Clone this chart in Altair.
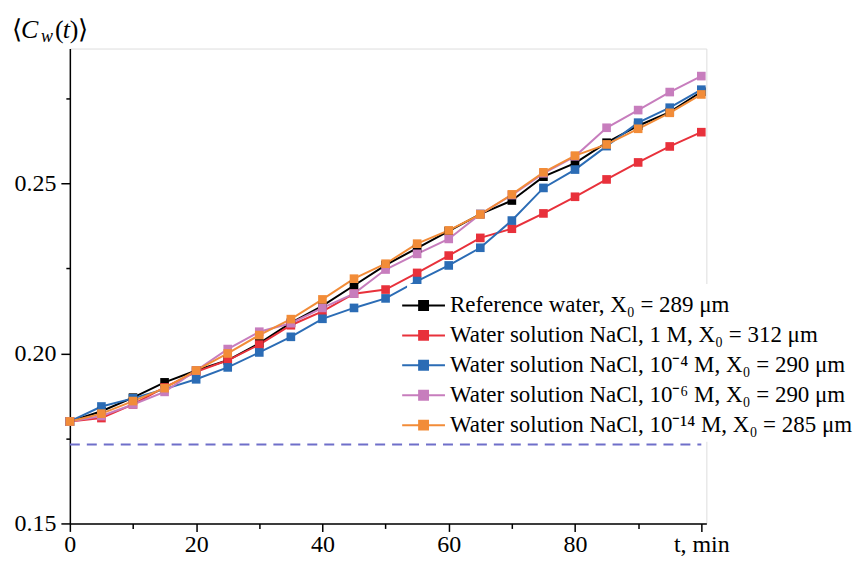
import altair as alt
import pandas as pd

t_min = list(range(0, 101, 5))

series_names = [
    "Reference water, X₀ = 289 μm",
    "Water solution NaCl, 1 M, X₀ = 312 μm",
    "Water solution NaCl, 10⁻⁴ M, X₀ = 290 μm",
    "Water solution NaCl, 10⁻⁶ M, X₀ = 290 μm",
    "Water solution NaCl, 10⁻¹⁴ M, X₀ = 285 μm",
]
colors = ["#000000", "#e8313b", "#2b6cb5", "#c77dbd", "#f28c38"]

reference_water = [0.180, 0.183, 0.187, 0.1915, 0.195, 0.198, 0.203, 0.209, 0.214, 0.220, 0.226,
                   0.231, 0.236, 0.241, 0.245, 0.252, 0.256, 0.262, 0.267, 0.271, 0.277]
nacl_1m = [0.180, 0.181, 0.185, 0.190, 0.1946, 0.198, 0.2026, 0.2083, 0.2124, 0.2176, 0.2188,
           0.2237, 0.2288, 0.234, 0.2367, 0.2412, 0.2461, 0.2512, 0.2562, 0.2609, 0.2651]
nacl_1e4 = [0.180, 0.1844, 0.1868, 0.1895, 0.1924, 0.1959, 0.2003, 0.2049, 0.2102, 0.2134, 0.2162,
            0.2213, 0.2259, 0.2311, 0.2391, 0.2487, 0.2541, 0.261, 0.2679, 0.2723, 0.2776]
nacl_1e6 = [0.180, 0.1816, 0.185, 0.1887, 0.195, 0.2013, 0.2064, 0.2089, 0.2134, 0.2176, 0.2247,
            0.2293, 0.2337, 0.241, 0.2466, 0.253, 0.258, 0.2664, 0.2716, 0.2769, 0.2816]
nacl_1e14 = [0.180, 0.1823, 0.186, 0.1898, 0.195, 0.200, 0.2054, 0.2101, 0.2159, 0.222, 0.2264,
             0.2323, 0.2362, 0.2409, 0.2468, 0.2533, 0.2582, 0.2615, 0.2661, 0.2708, 0.2762]
all_series = [reference_water, nacl_1m, nacl_1e4, nacl_1e6, nacl_1e14]

baseline_value = 0.1732

rows = []
for idx, (name, vals) in enumerate(zip(series_names, all_series)):
    for tt, vv in zip(t_min, vals):
        rows.append({"t": tt, "v": vv, "series": name, "order": idx})
df = pd.DataFrame(rows)

SERIF = "Liberation Serif"

x_axis = alt.Axis(
    values=list(range(0, 101, 10)),
    labelExpr="datum.value == 100 ? 't, min' : (datum.value % 20 == 0 ? datum.label : '')",
    title=None, grid=False,
    domainColor="black", domainWidth=1.5,
    tickColor="black", tickWidth=1.5,
    tickSize={"condition": {"test": "datum.value % 20 == 0 || datum.value == 100", "value": 8}, "value": 5},
    labelFont=SERIF, labelFontSize=24, labelColor="black", labelPadding=1, labelFlush=False,
)
y_axis = alt.Axis(
    values=[0.15, 0.175, 0.2, 0.225, 0.25, 0.275],
    labelExpr="(round(datum.value*1000) % 50 == 0) ? format(datum.value, '.2f') : ''",
    title=None, grid=False,
    domainColor="black", domainWidth=1.5,
    tickColor="black", tickWidth=1.5,
    tickSize={"condition": {"test": "round(datum.value*1000) % 50 == 0", "value": 9}, "value": 4},
    labelFont=SERIF, labelFontSize=24, labelColor="black", labelPadding=5,
)

x_scale = alt.Scale(domain=[0, 100.8], nice=False, zero=False)
y_scale = alt.Scale(domain=[0.15, 0.2897], nice=False, zero=False)
x_enc = alt.X("t:Q", scale=x_scale, axis=x_axis)
y_enc = alt.Y("v:Q", scale=y_scale, axis=y_axis)

legend = alt.Legend(
    orient="none", legendX=338, legendY=236,
    fillColor="white", padding=4,
    labelFont=SERIF, labelFontSize=23, labelColor="black", labelLimit=1000, labelOffset=4,
    symbolType="M-1.6,0H-0.57M-0.03,0H1M-0.57,-0.27H-0.03V0.27H-0.57Z",
    symbolSize=1089, symbolStrokeWidth=2, symbolOpacity=1, rowPadding=0,
)
color_enc = alt.Color("series:N", scale=alt.Scale(domain=series_names, range=colors),
                      title=None, legend=legend)

base = alt.Chart(df)
lines = base.mark_line(strokeWidth=2).encode(
    x=x_enc, y=y_enc, color=color_enc, order="t:Q")
points = base.mark_point(shape="square", filled=True, size=75, opacity=1).encode(
    x=x_enc, y=y_enc, color=color_enc)

rule_df = pd.DataFrame({"t": [0], "t2": [100], "v": [baseline_value]})
dashed = alt.Chart(rule_df).mark_rule(color="#6f6fc9", strokeDash=[10, 7], strokeWidth=2).encode(
    x=alt.X("t:Q", scale=x_scale), x2="t2:Q", y=alt.Y("v:Q", scale=y_scale))

# y-axis title pieces: ⟨ C_w (t) ⟩
title_pieces = [
    ("⟨", "normal", 26, -58, -11),
    ("C", "italic", 26, -49, -11),
    ("w", "italic", 18, -29, -7),
    ("(", "normal", 26, -15, -11),
    ("t", "italic", 26, -7, -11),
    (")⟩", "normal", 26, 0, -11),
]
one = pd.DataFrame({"k": [0]})
title_layers = []
for txt, style, size, px, py in title_pieces:
    title_layers.append(
        alt.Chart(one).mark_text(align="left", baseline="alphabetic", font=SERIF,
                                 fontStyle=style, fontSize=size, color="black").encode(
            x=alt.value(px), y=alt.value(py), text=alt.value(txt))
    )

chart = alt.layer(dashed, lines, points, *title_layers).properties(
    width=638, height=476,
    padding={"left": 62, "top": 40, "right": 150, "bottom": 36},
    autosize=alt.AutoSizeParams(type="none"),
).configure_view(stroke="#555555", strokeWidth=1.5).configure(background="white")

chart.save("out.html", embed_options={"renderer": "svg", "actions": False})
